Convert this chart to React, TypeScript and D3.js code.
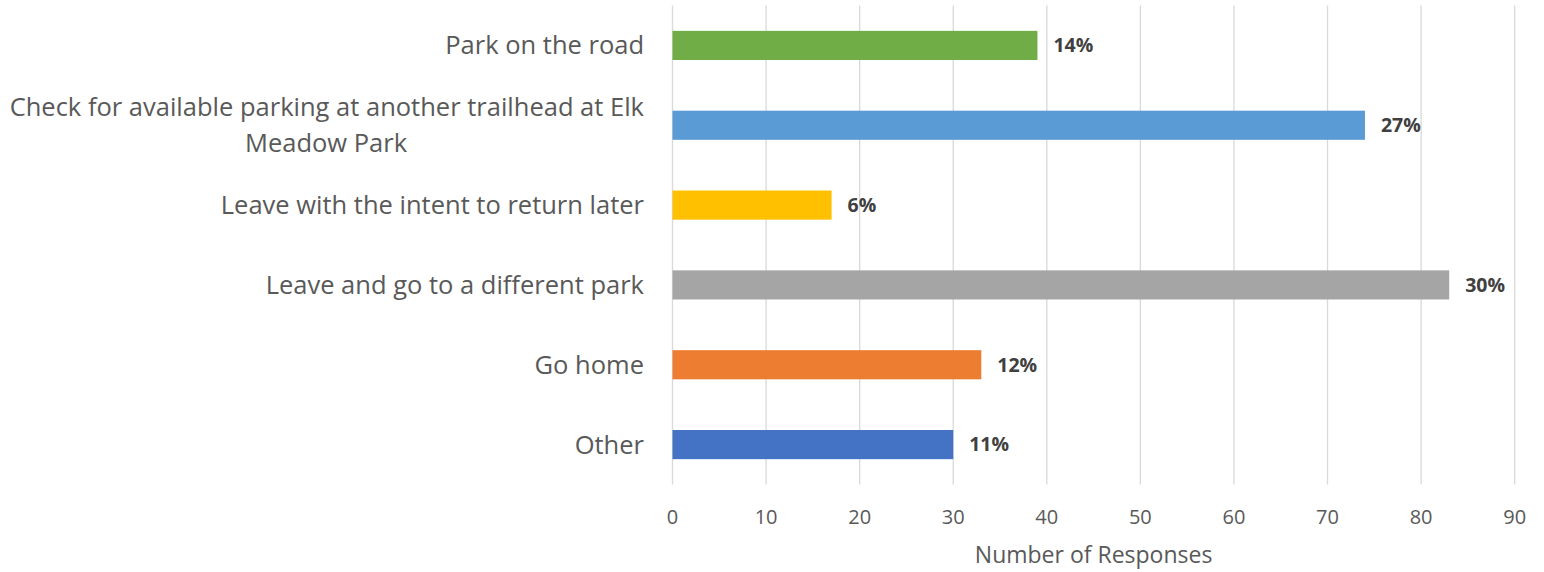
import React from "react";
import * as d3 from "d3";

const categories: string[][] = [
  ["Park on the road"],
  ["Check for available parking at another trailhead at Elk", "Meadow Park"],
  ["Leave with the intent to return later"],
  ["Leave and go to a different park"],
  ["Go home"],
  ["Other"],
];
const values = [39, 74, 17, 83, 33, 30];
const pctLabels = ["14%", "27%", "6%", "30%", "12%", "11%"];
const colors = ["#70AD47", "#5B9BD5", "#FFC000", "#A5A5A5", "#ED7D31", "#4472C4"];
const xTicks = [0, 10, 20, 30, 40, 50, 60, 70, 80, 90];
const xTitle = "Number of Responses";

const W = 1544;
const H = 572;
const left = 672.5;
const right = 1514.7;
const top = 5.5;
const bottom = 484.5;
const labelRight = 644;
const FONT = "'Open Sans', 'DejaVu Sans', sans-serif";

export default function App() {
  const x = d3.scaleLinear().domain([0, 90]).range([left, right]);
  const y = d3
    .scaleBand<number>()
    .domain(d3.range(values.length))
    .range([top, bottom])
    .paddingInner(0.635)
    .paddingOuter(0.3175);
  const bw = y.bandwidth();

  return (
    <svg
      width={W}
      height={H}
      style={{ position: "absolute", left: 0, top: 0, background: "#fff" }}
    >
      <rect x={0} y={0} width={W} height={H} fill="#fff" />
      {xTicks.map((t) => (
        <line
          key={"g" + t}
          x1={x(t)}
          x2={x(t)}
          y1={top}
          y2={bottom}
          stroke="#D9D9D9"
          strokeWidth={1.3}
        />
      ))}
      {values.map((v, i) => (
        <rect
          key={"b" + i}
          x={x(0)}
          y={y(i)}
          width={x(v) - x(0)}
          height={bw}
          fill={colors[i]}
        />
      ))}
      {values.map((v, i) => (
        <text
          key={"v" + i}
          x={x(v) + 16}
          y={(y(i) as number) + bw / 2}
          dy="0.35em"
          fontFamily={FONT}
          fontWeight="bold"
          fontSize={19.5}
          fill="#404040"
        >
          {pctLabels[i]}
        </text>
      ))}
      {categories.map((lines, i) => {
        const cy = (y(i) as number) + bw / 2;
        const lh = 35.5;
        const start = cy - ((lines.length - 1) * lh) / 2;
        return (
          <text key={"c" + i} fontFamily={FONT} fontSize={25.5} fill="#595959">
            {lines.map((ln, j) =>
              j === 0 ? (
                <tspan key={j} x={labelRight} y={start} dy="0.35em" textAnchor="end">
                  {ln}
                </tspan>
              ) : (
                <tspan
                  key={j}
                  x={labelRight - 318}
                  y={start + j * lh}
                  dy="0.35em"
                  textAnchor="middle"
                >
                  {ln}
                </tspan>
              )
            )}
          </text>
        );
      })}
      {xTicks.map((t) => (
        <text
          key={"t" + t}
          x={x(t)}
          y={517}
          dy="0.35em"
          textAnchor="middle"
          fontFamily={FONT}
          fontSize={20}
          fill="#595959"
        >
          {t}
        </text>
      ))}
      <text
        x={(left + right) / 2}
        y={555}
        dy="0.35em"
        textAnchor="middle"
        fontFamily={FONT}
        fontSize={23}
        fill="#595959"
      >
        {xTitle}
      </text>
    </svg>
  );
}
